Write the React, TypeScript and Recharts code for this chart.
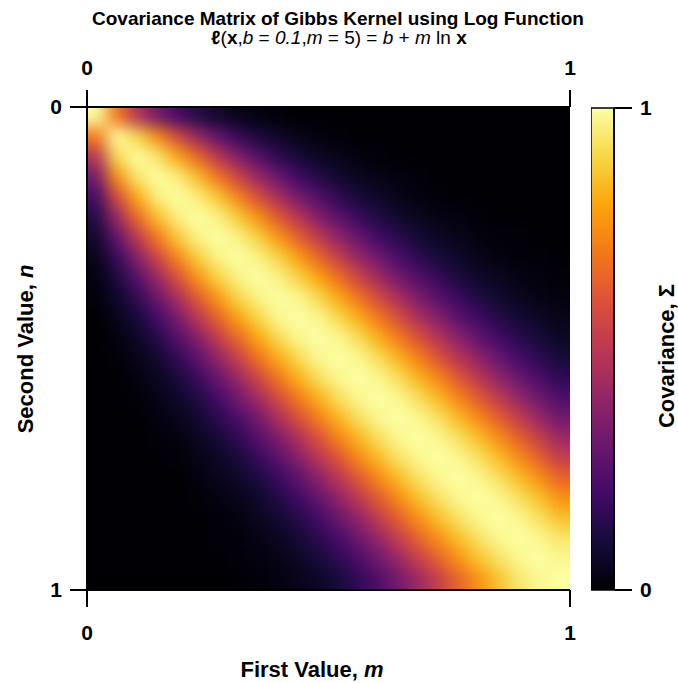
import React from "react";
import { ScatterChart, Scatter, XAxis, YAxis, BarChart, Bar } from "recharts";

// cell centres along m (columns) and n (rows)
const gridPos = [
  0.0208, 0.0625, 0.1042, 0.1458, 0.1875, 0.2292, 0.2708, 0.3125, 0.3542, 0.3958, 0.4375, 0.4792,
  0.5208, 0.5625, 0.6042, 0.6458, 0.6875, 0.7292, 0.7708, 0.8125, 0.8542, 0.8958, 0.9375, 0.9792,
];

// covariance (in %), rows = second value n (top -> bottom), cols = first value m
const covariance = [
  [100, 70, 48, 32, 21, 13, 8, 4, 2, 1, 0, 0, 0, 0, 0, 0, 0, 0, 0, 0, 0, 0, 0, 0],
  [70, 100, 91, 75, 57, 41, 28, 18, 11, 7, 4, 2, 1, 0, 0, 0, 0, 0, 0, 0, 0, 0, 0, 0],
  [48, 91, 100, 94, 81, 66, 50, 36, 25, 16, 10, 6, 4, 2, 1, 0, 0, 0, 0, 0, 0, 0, 0, 0],
  [32, 75, 94, 100, 96, 85, 70, 55, 41, 30, 20, 13, 8, 5, 3, 2, 1, 0, 0, 0, 0, 0, 0, 0],
  [21, 57, 81, 96, 100, 96, 87, 73, 59, 45, 33, 24, 16, 10, 7, 4, 2, 1, 0, 0, 0, 0, 0, 0],
  [13, 41, 66, 85, 96, 100, 97, 88, 76, 62, 49, 36, 26, 18, 12, 8, 5, 3, 2, 1, 0, 0, 0, 0],
  [8, 28, 50, 70, 87, 97, 100, 97, 89, 77, 64, 51, 39, 29, 20, 14, 9, 6, 4, 2, 1, 1, 0, 0],
  [4, 18, 36, 55, 73, 88, 97, 100, 97, 90, 79, 66, 53, 41, 31, 22, 15, 10, 7, 4, 2, 1, 1, 0],
  [2, 11, 25, 41, 59, 76, 89, 97, 100, 97, 90, 80, 68, 55, 43, 32, 24, 17, 11, 7, 5, 3, 2, 1],
  [1, 7, 16, 30, 45, 62, 77, 90, 97, 100, 98, 91, 81, 69, 57, 45, 34, 25, 18, 12, 8, 5, 3, 2],
  [0, 4, 10, 20, 33, 49, 64, 79, 90, 98, 100, 98, 91, 82, 70, 58, 46, 36, 26, 19, 13, 9, 6, 4],
  [0, 2, 6, 13, 24, 36, 51, 66, 80, 91, 98, 100, 98, 92, 82, 71, 59, 48, 37, 28, 20, 14, 10, 6],
  [0, 1, 4, 8, 16, 26, 39, 53, 68, 81, 91, 98, 100, 98, 92, 83, 72, 60, 49, 38, 29, 21, 15, 10],
  [0, 0, 2, 5, 10, 18, 29, 41, 55, 69, 82, 92, 98, 100, 98, 92, 83, 73, 61, 50, 39, 30, 22, 16],
  [0, 0, 1, 3, 7, 12, 20, 31, 43, 57, 70, 82, 92, 98, 100, 98, 92, 84, 73, 62, 51, 40, 31, 23],
  [0, 0, 0, 2, 4, 8, 14, 22, 32, 45, 58, 71, 83, 92, 98, 100, 98, 93, 84, 74, 63, 52, 41, 32],
  [0, 0, 0, 1, 2, 5, 9, 15, 24, 34, 46, 59, 72, 83, 92, 98, 100, 98, 93, 85, 75, 64, 53, 42],
  [0, 0, 0, 0, 1, 3, 6, 10, 17, 25, 36, 48, 60, 73, 84, 93, 98, 100, 98, 93, 85, 75, 64, 53],
  [0, 0, 0, 0, 0, 2, 4, 7, 11, 18, 26, 37, 49, 61, 73, 84, 93, 98, 100, 98, 93, 85, 76, 65],
  [0, 0, 0, 0, 0, 1, 2, 4, 7, 12, 19, 28, 38, 50, 62, 74, 85, 93, 98, 100, 98, 93, 86, 76],
  [0, 0, 0, 0, 0, 0, 1, 2, 5, 8, 13, 20, 29, 39, 51, 63, 75, 85, 93, 98, 100, 98, 93, 86],
  [0, 0, 0, 0, 0, 0, 1, 1, 3, 5, 9, 14, 21, 30, 40, 52, 64, 75, 85, 93, 98, 100, 98, 94],
  [0, 0, 0, 0, 0, 0, 0, 1, 2, 3, 6, 10, 15, 22, 31, 41, 53, 64, 76, 86, 93, 98, 100, 98],
  [0, 0, 0, 0, 0, 0, 0, 0, 1, 2, 4, 6, 10, 16, 23, 32, 42, 53, 65, 76, 86, 94, 98, 100],
];

const axisTicks = [0, 1];
const colorbarTicks = [0, 1];
const colorbarData = [{ name: "cov", v: 1 }];

// inferno colormap, 0 -> 1 in steps of 0.1
const infernoStops = [
  "#000004", "#160b39", "#420a68", "#6a176e", "#932667", "#bc3754",
  "#dd513a", "#f37819", "#fca50a", "#f6d746", "#fcffa4",
];

const PLOT = 483;
const CELL = PLOT / covariance.length;
const FONT = '"Liberation Sans", Arial, Helvetica, sans-serif';

const hexToRgb = (h: string) => [1, 3, 5].map((i) => parseInt(h.slice(i, i + 2), 16));

const inferno = (t: number) => {
  const x = Math.min(1, Math.max(0, t)) * 10;
  const i = Math.min(9, Math.floor(x));
  const f = x - i;
  const a = hexToRgb(infernoStops[i]);
  const b = hexToRgb(infernoStops[i + 1]);
  const c = a.map((v, k) => Math.round(v + (b[k] - v) * f));
  return `rgb(${c[0]},${c[1]},${c[2]})`;
};

const heatData = covariance.flatMap((row, r) =>
  row.map((v, c) => ({ m: gridPos[c], n: gridPos[r], v }))
);

// the top axis needs a series of its own to be drawn; these points draw nothing
const topAxisData = axisTicks.map((t) => ({ m: t, n: t }));

const HeatCell = (props: any) => {
  const { cx, cy, payload } = props;
  return (
    <rect
      x={cx - CELL / 2 - 0.5}
      y={cy - CELL / 2 - 0.5}
      width={CELL + 1}
      height={CELL + 1}
      fill={inferno(payload.v / 100)}
    />
  );
};

const NoMark = () => <g />;

const tickStyle = { fontSize: 21, fontWeight: 700, fill: "#000" };
const lineStyle = { stroke: "#000", strokeWidth: 2 };

const XTitle = () => (
  <text x={312} y={677} textAnchor="middle" fontSize={22} fontWeight={700} fill="#000">
    {"First Value, "}
    <tspan fontStyle="italic">m</tspan>
  </text>
);

const YTitle = () => (
  <text
    transform="translate(33,349) rotate(-90)"
    textAnchor="middle"
    fontSize={22}
    fontWeight={700}
    fill="#000"
  >
    {"Second Value, "}
    <tspan fontStyle="italic">n</tspan>
  </text>
);

const CbTitle = () => (
  <text
    transform="translate(83,356) rotate(-90)"
    textAnchor="middle"
    fontSize={22}
    fontWeight={700}
    fill="#000"
  >
    Covariance, Σ
  </text>
);

const App: React.FC = () => {
  return (
    <div style={{ position: "absolute", left: 0, top: 0, width: 678, height: 683, fontFamily: FONT, background: "#fff" }}>
      {/* smooth the cell grid, keep the spines visible on top of it */}
      <style>{`.heat-layer { filter: url(#heatBlur); clip-path: inset(1.5px 0.5px 1.5px 1.5px); }`}</style>

      <svg width={678} height={60} style={{ position: "absolute", left: 0, top: 0 }}>
        <text x={338} y={25} textAnchor="middle" fontSize={19} fontWeight={700} fill="#000">
          Covariance Matrix of Gibbs Kernel using Log Function
        </text>
        <text x={339} y={44} textAnchor="middle" fontSize={19} fill="#000">
          <tspan fontWeight={700}>ℓ</tspan>
          {"("}
          <tspan fontWeight={700}>x</tspan>
          {","}
          <tspan fontStyle="italic">b</tspan>
          {" = "}
          <tspan fontStyle="italic">0.1</tspan>
          {","}
          <tspan fontStyle="italic">m</tspan>
          {" = 5) = "}
          <tspan fontStyle="italic">b</tspan>
          {" + "}
          <tspan fontStyle="italic">m</tspan>
          {" ln "}
          <tspan fontWeight={700}>x</tspan>
        </text>
      </svg>

      <div style={{ position: "absolute", left: 0, top: 0 }}>
        <ScatterChart width={678} height={683} margin={{ top: 47, right: 108, bottom: 33, left: 27 }}>
          <defs>
            <filter id="heatBlur" x="0" y="0" width="1" height="1" colorInterpolationFilters="sRGB">
              <feGaussianBlur stdDeviation={8} />
              <feComponentTransfer>
                <feFuncA type="table" tableValues="1 1" />
              </feComponentTransfer>
            </filter>
          </defs>
          <Scatter
            data={heatData}
            xAxisId="bottom"
            yAxisId="left"
            dataKey="n"
            shape={HeatCell}
            className="heat-layer"
            isAnimationActive={false}
          />
          <Scatter
            data={topAxisData}
            xAxisId="top"
            yAxisId="left"
            dataKey="n"
            shape={NoMark}
            isAnimationActive={false}
          />
          <XAxis
            xAxisId="bottom"
            dataKey="m"
            type="number"
            domain={[0, 1]}
            ticks={axisTicks}
            allowDataOverflow
            height={60}
            tickSize={17}
            tickMargin={18}
            tick={tickStyle}
            axisLine={lineStyle}
            tickLine={lineStyle}
            label={<XTitle />}
          />
          <XAxis
            xAxisId="top"
            dataKey="m"
            orientation="top"
            type="number"
            domain={[0, 1]}
            ticks={axisTicks}
            allowDataOverflow
            height={60}
            tickSize={17}
            tickMargin={15}
            tick={tickStyle}
            axisLine={lineStyle}
            tickLine={lineStyle}
          />
          <YAxis
            yAxisId="left"
            dataKey="n"
            type="number"
            domain={[0, 1]}
            reversed
            ticks={axisTicks}
            allowDataOverflow
            width={60}
            tickSize={17}
            tickMargin={8}
            tick={tickStyle}
            axisLine={lineStyle}
            tickLine={lineStyle}
            label={<YTitle />}
          />
        </ScatterChart>
      </div>

      <div style={{ position: "absolute", left: 591, top: 0 }}>
        <BarChart
          width={87}
          height={683}
          data={colorbarData}
          margin={{ top: 108, right: 0, bottom: 93, left: 0 }}
          barCategoryGap={0}
        >
          <defs>
            <linearGradient id="infernoBar" x1="0" y1="1" x2="0" y2="0">
              {infernoStops.map((c, i) => (
                <stop key={c} offset={i / (infernoStops.length - 1)} stopColor={c} />
              ))}
            </linearGradient>
          </defs>
          <XAxis dataKey="name" hide />
          <YAxis
            orientation="right"
            type="number"
            domain={[0, 1]}
            ticks={colorbarTicks}
            width={64}
            tickSize={18}
            tickMargin={8}
            tick={tickStyle}
            axisLine={lineStyle}
            tickLine={lineStyle}
            label={<CbTitle />}
          />
          <Bar dataKey="v" fill="url(#infernoBar)" stroke="#000" strokeWidth={1.5} isAnimationActive={false} />
        </BarChart>
      </div>
    </div>
  );
};

export default App;
